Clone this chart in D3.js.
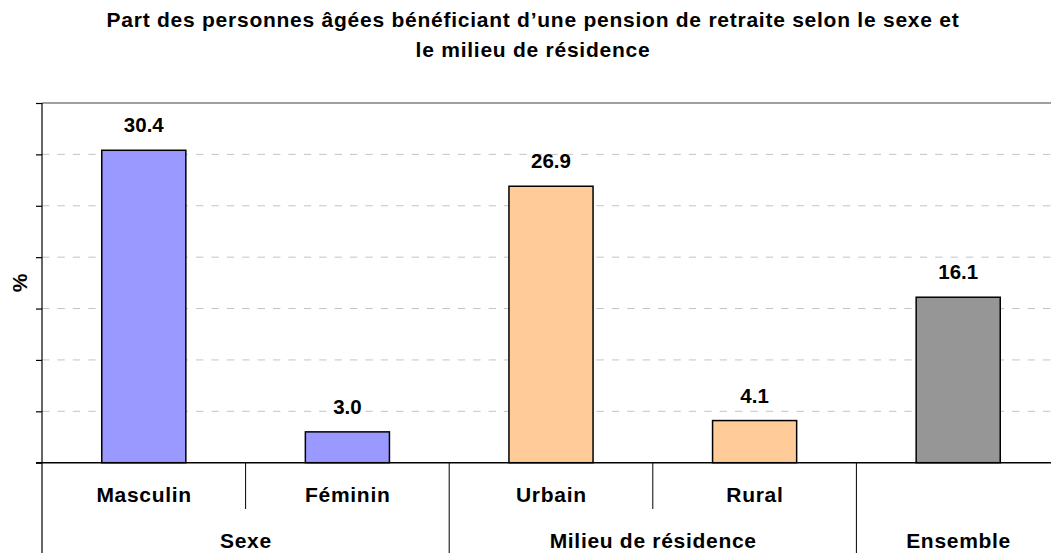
<!DOCTYPE html>
<html>
<head>
<meta charset="utf-8">
<script src="https://cdn.jsdelivr.net/npm/d3@7"></script>
<style>
  body { margin: 0; background: #fff; }
  svg { display: block; font-family: "Liberation Sans", Arial, sans-serif; font-weight: bold; }
</style>
</head>
<body>
<div id="chart"></div>
<script>
const titleLines = ["Part des personnes âgées bénéficiant d’une pension de retraite selon le sexe et", "le milieu de résidence"];
const categories = ["Masculin", "Féminin", "Urbain", "Rural", "Ensemble"];
const catLabels = ["Masculin", "Féminin", "Urbain", "Rural", ""];
const values = [30.4, 3.0, 26.9, 4.1, 16.1];
const groupOf = ["Sexe", "Sexe", "Milieu de résidence", "Milieu de résidence", "Ensemble"];
const groups = ["Sexe", "Milieu de résidence", "Ensemble"];
const yTicks = [0, 5, 10, 15, 20, 25, 30, 35];
const yLabel = "%";

const width = 1051, height = 553;
const plotLeft = 42, plotRight = 1060, plotTop = 103, plotBottom = 462.7;

const colors = {"Sexe": "#9999ff", "Milieu de résidence": "#ffcc99", "Ensemble": "#969696"};

const svg = d3.select("#chart").append("svg")
  .attr("width", width)
  .attr("height", height);

const x = d3.scaleBand()
  .domain(categories)
  .range([plotLeft, plotRight])
  .paddingInner(0.587)
  .paddingOuter(0.2935);

const y = d3.scaleLinear().domain([0, 35]).range([plotBottom, plotTop]);

// title
svg.selectAll(".title")
  .data(titleLines)
  .enter().append("text")
  .attr("x", 533)
  .attr("y", (d, i) => i === 0 ? 27 : 57)
  .attr("text-anchor", "middle")
  .attr("font-size", 21)
  .attr("letter-spacing", 0.75)
  .attr("fill", "#000")
  .text(d => d);

// grid
svg.selectAll(".grid")
  .data(yTicks.filter(t => t > 0 && t < 35))
  .enter().append("line")
  .attr("x1", plotLeft).attr("x2", width)
  .attr("y1", d => y(d)).attr("y2", d => y(d))
  .attr("stroke", "#c4c4c4")
  .attr("stroke-width", 1)
  .attr("stroke-dasharray", "7.4 8");

// top border
svg.append("line")
  .attr("x1", plotLeft).attr("x2", width)
  .attr("y1", y(35)).attr("y2", y(35))
  .attr("stroke", "#808080").attr("stroke-width", 1.5);

// y axis
const yAxis = svg.append("g")
  .attr("transform", "translate(" + plotLeft + ",0)")
  .call(d3.axisLeft(y).tickValues(yTicks).tickSize(6).tickSizeOuter(0).tickFormat(""));
yAxis.select(".domain").remove();
yAxis.selectAll(".tick line").attr("stroke", "#000").attr("stroke-width", 1.2);

svg.append("text")
  .attr("transform", "translate(27," + ((plotTop + plotBottom) / 2) + ") rotate(-90)")
  .attr("text-anchor", "middle")
  .attr("font-size", 21)
  .text(yLabel);

// bars
svg.selectAll(".bar")
  .data(categories)
  .enter().append("rect")
  .attr("x", d => x(d))
  .attr("width", x.bandwidth())
  .attr("y", (d, i) => y(values[i]))
  .attr("height", (d, i) => y(0) - y(values[i]))
  .attr("fill", (d, i) => colors[groupOf[i]])
  .attr("stroke", "#000")
  .attr("stroke-width", 1.5);

// value labels
svg.selectAll(".val")
  .data(categories)
  .enter().append("text")
  .attr("x", d => x(d) + x.bandwidth() / 2)
  .attr("y", (d, i) => y(values[i]) - 18)
  .attr("text-anchor", "middle")
  .attr("font-size", 20.5)
  .text((d, i) => values[i].toFixed(1));

// baseline
svg.append("line")
  .attr("x1", plotLeft - 6).attr("x2", width)
  .attr("y1", y(0)).attr("y2", y(0))
  .attr("stroke", "#000").attr("stroke-width", 1.5);

// category axis: left border and separators
svg.append("line")
  .attr("x1", plotLeft).attr("x2", plotLeft)
  .attr("y1", plotTop).attr("y2", height)
  .attr("stroke", "#000").attr("stroke-width", 1.2);

const step = x.step();
const cellStart = d => x(d) - x.paddingOuter() * step;

categories.forEach((c, i) => {
  if (i === 0) return;
  const newGroup = groupOf[i] !== groupOf[i - 1];
  svg.append("line")
    .attr("x1", cellStart(c)).attr("x2", cellStart(c))
    .attr("y1", y(0)).attr("y2", newGroup ? height : 509)
    .attr("stroke", "#000").attr("stroke-width", 1);
});

svg.selectAll(".cat")
  .data(categories)
  .enter().append("text")
  .attr("x", d => x(d) + x.bandwidth() / 2 + 0.35)
  .attr("y", 501.5)
  .attr("text-anchor", "middle")
  .attr("font-size", 21)
  .attr("letter-spacing", 0.7)
  .text((d, i) => catLabels[i]);

svg.selectAll(".grp")
  .data(groups)
  .enter().append("text")
  .attr("x", g => {
    const cs = categories.filter((c, i) => groupOf[i] === g);
    const a = cellStart(cs[0]);
    const b = cellStart(cs[cs.length - 1]) + step;
    return (a + b) / 2 + 0.35;
  })
  .attr("y", 548)
  .attr("text-anchor", "middle")
  .attr("font-size", 21)
  .attr("letter-spacing", 0.7)
  .text(g => g);
</script>
</body>
</html>
